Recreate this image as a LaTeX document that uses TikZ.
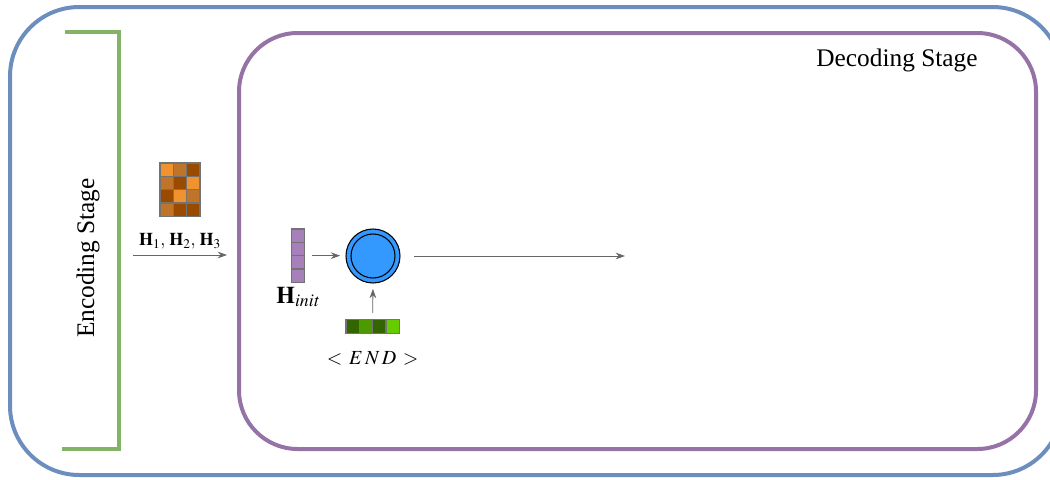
\documentclass[tikz,border=0pt]{standalone}
\usepackage{mathptmx}
\usepackage{fontspec}
\setmainfont{Liberation Serif}
\usetikzlibrary{positioning,fit,arrows.meta}

\definecolor{encgreen}{HTML}{82B366}
\definecolor{outblue}{HTML}{6C8EBF}
\definecolor{decpurple}{HTML}{9673A6}
\definecolor{ol}{HTML}{F0922E}
\definecolor{om}{HTML}{C0742A}
\definecolor{od}{HTML}{9A4B00}
\definecolor{vecpurple}{HTML}{A680B8}
\definecolor{gd}{HTML}{336600}
\definecolor{gm}{HTML}{4D9900}
\definecolor{gl}{HTML}{66CC00}
\definecolor{cellblue}{HTML}{3399FF}

\tikzset{
  stagebox/.style={line width=3pt, rounded corners=#1},
  cell/.style={draw=black!55, line width=0.9pt, minimum size=10pt, inner sep=0pt, outer sep=0pt},
  flow/.style={->, >={Stealth[length=7pt,width=5pt]}, draw=black!60, line width=0.6pt},
  stagelabel/.style={font=\fontsize{19}{22}\selectfont}
}

\begin{document}
\begin{tikzpicture}[x=0.75pt, y=-0.75pt]
\useasboundingbox (0,0) rectangle (1050,479);
\clip (0,0) rectangle (1050,479);

% stages
\draw[stagebox=52pt, draw=outblue] (10,7) rectangle (1062,475);
\draw[stagebox=44pt, draw=decpurple] (239,33) rectangle (1036,449);
\draw[line width=3pt, draw=encgreen] (65,32) -- (119,32) -- (119,449) -- (62,449);
\node[stagelabel, rotate=90] (enclab) at (88,258) {Encoding Stage};
\node[stagelabel] (declab) at (897,60) {Decoding Stage};

% encoder states
\foreach \row [count=\r from 0] in {{ol,om,od},{om,od,ol},{od,ol,om},{om,od,od}} {
  \foreach \col [count=\c from 0] in \row {
    \node[cell, fill=\col] (m\r\c) at ({166.7+13.3*\c},{169.7+13.3*\r}) {};
  }
}
\node[fit=(m00)(m32), inner sep=0pt] (hmat) {};
\node[font=\fontsize{13.5}{15}\selectfont] (hlab) at (180,241) {$\mathbf{H}_1,\,\mathbf{H}_2,\,\mathbf{H}_3$};
\coordinate (encout) at (133,255);
\coordinate (decin) at (227,255);
\draw[flow] (encout) -- (decin);

% decoder step
\foreach \k in {0,...,3}
  \node[cell, fill=vecpurple] (h\k) at (298,{235.7+13.3*\k}) {};
\node[fit=(h0)(h3), inner sep=0pt] (hinit) {};
\node[font=\fontsize{18}{20}\selectfont, below=0pt of hinit] (hinitlab) {$\mathbf{H}_{\mathit{init}}$};

\node[circle, draw=black, line width=0.8pt, fill=cellblue, minimum size=40.5pt] (dec) at (373,256) {};
\node[circle, draw=black, line width=0.8pt, minimum size=33pt] (decin2) at (dec) {};

\foreach \col [count=\k from 0] in {gd,gm,gd,gl}
  \node[cell, fill=\col] (e\k) at ({352.7+13.3*\k},326.5) {};
\node[fit=(e0)(e3), inner sep=0pt] (endvec) {};
\node[font=\fontsize{15}{17}\selectfont, below=10pt of endvec] (endlab) {$<\,E\,N\,D\,>$};

\coordinate (out) at (625,256);
\draw[flow, shorten <=5pt, shorten >=4pt] (hinit.east) -- (hinit.east -| dec.west);
\draw[flow, shorten <=5pt, shorten >=4pt] (endvec.north) -- (dec.south);
\draw[flow, shorten <=10pt] (dec.east) -- (out);
\end{tikzpicture}
\end{document}
